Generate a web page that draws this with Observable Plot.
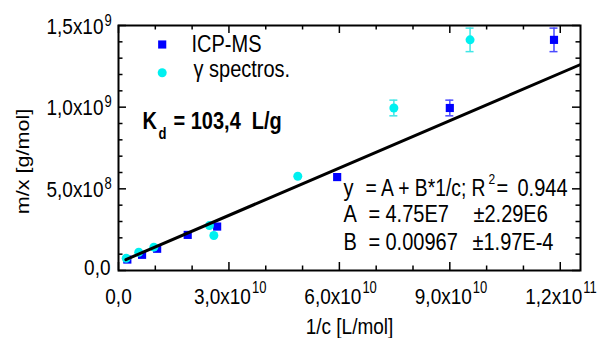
<!DOCTYPE html>
<html><head><meta charset="utf-8">
<script src="https://cdn.jsdelivr.net/npm/d3@7"></script>
<script src="https://cdn.jsdelivr.net/npm/@observablehq/plot@0.6"></script>
<style>
body{margin:0;background:#fff;}
#chart svg{font-family:"Liberation Sans",Arial,sans-serif;color:#000;background:#fff;}
</style>
</head><body><div id="chart"></div>
<script>
// ---- data ----
const icpX = [2.4e9, 6.4e9, 1.05e10, 1.88e10, 2.68e10, 5.94e10, 9.0e10, 1.183e11];
const icpY = [6.7e7, 9.6e7, 1.33e8, 2.18e8, 2.69e8, 5.72e8, 9.95e8, 1.412e9];
const icpErr = [0, 0, 0, 0, 0, 0, 4.8e7, 7.2e7];
const gamX = [2.1e9, 5.5e9, 9.6e9, 2.47e10, 2.59e10, 4.87e10, 7.48e10, 9.55e10];
const gamY = [7.5e7, 1.12e8, 1.43e8, 2.75e8, 2.14e8, 5.77e8, 9.95e8, 1.412e9];
const gamErr = [0, 0, 0, 0, 0, 0, 4.8e7, 7.2e7];
const fitA = 4.75e7, fitB = 0.00967;
const fitXRange = [2.0e9, 1.255e11];

const xMajor = [0, 3e10, 6e10, 9e10, 1.2e11];
const xMant = ["0,0", "3,0x10", "6,0x10", "9,0x10", "1,2x10"];
const xExp = ["", "10", "10", "10", "11"];
const xMinor = [1e10, 2e10, 4e10, 5e10, 7e10, 8e10, 1e11, 1.1e11];
const yMajor = [0, 5e8, 1e9, 1.5e9];
const yMant = ["0,0", "5,0x10", "1,0x10", "1,5x10"];
const yExp = ["", "8", "9", "9"];
const yMinor = [1e8, 2e8, 3e8, 4e8, 6e8, 7e8, 8e8, 9e8, 1.1e9, 1.2e9, 1.3e9, 1.4e9];

const xTitle = "1/c [L/mol]";
const yTitle = "m/x [g/mol]";
const legendNames = ["ICP-MS", "\u03b3 spectros."];
const kdText = ["K", "d", "= 103,4\u00a0\u00a0L/g"];
const fitRowLabels = ["y", "A", "B"];
const fitEq = "= A + B*1/c; R";
const r2Sup = "2";
const r2Val = "0.944";
const fitValues = ["4.75E7", "0.00967"];
const fitErrors = ["\u00b12.29E6", "\u00b11.97E-4"];

// ---- tables ----
const blueC = "#0000ff", cyanC = "#00f0f0";
const icp = icpX.map((x, i) => ({x, y: icpY[i], e: icpErr[i]}));
const gam = gamX.map((x, i) => ({x, y: gamY[i], e: gamErr[i]}));
const fitLine = fitXRange.map(x => ({x, y: fitA + fitB * x}));
const xT = xMajor.map((v, i) => ({v, m: xMant[i], e: xExp[i]}));
const yT = yMajor.map((v, i) => ({v, m: yMant[i], e: yExp[i]}));
const XMAX = 1.255e11, YMAX = 1.5e9;

function errMarks(data, color) {
  const d = data.filter(r => r.e > 0);
  const o = {stroke: color, strokeWidth: 1.5};
  return [
    Plot.ruleX(d, {x: "x", y1: r => r.y - r.e, y2: r => r.y + r.e, ...o}),
    Plot.ruleY(d, {y: r => r.y - r.e, x1: "x", x2: "x", insetLeft: -4, insetRight: -4, ...o}),
    Plot.ruleY(d, {y: r => r.y + r.e, x1: "x", x2: "x", insetLeft: -4, insetRight: -4, ...o})
  ];
}
function lab(t, dx, dy, o = {}) {
  return Plot.text([t], {text: d => d, frameAnchor: "top-left", dx, dy, textAnchor: "start", lineAnchor: "bottom", fontSize: 20, fill: "black", ...o});
}
const tk = {stroke: "black", strokeWidth: 1.5};

const chart = Plot.plot({
  width: 597, height: 338,
  marginLeft: 118, marginRight: 17, marginTop: 25, marginBottom: 68,
  x: {domain: [0, XMAX], axis: null},
  y: {domain: [0, YMAX], axis: null},
  marks: [
    // ticks (inward)
    Plot.ruleX(xMajor, {x: d => d, y1: 0, y2: 0, insetTop: -8, ...tk}),
    Plot.ruleX(xMinor, {x: d => d, y1: 0, y2: 0, insetTop: -4.5, ...tk}),
    Plot.ruleX(xMajor, {x: d => d, y1: YMAX, y2: YMAX, insetBottom: -8, ...tk}),
    Plot.ruleX(xMinor, {x: d => d, y1: YMAX, y2: YMAX, insetBottom: -4.5, ...tk}),
    Plot.ruleY(yMajor, {y: d => d, x1: 0, x2: 0, insetRight: -8, ...tk}),
    Plot.ruleY(yMinor, {y: d => d, x1: 0, x2: 0, insetRight: -4.5, ...tk}),
    Plot.ruleY(yMajor, {y: d => d, x1: XMAX, x2: XMAX, insetLeft: -8, ...tk}),
    Plot.ruleY(yMinor, {y: d => d, x1: XMAX, x2: XMAX, insetLeft: -4.5, ...tk}),
    // tick labels
    Plot.text(xT.filter(d => d.e === ""), {x: "v", text: "m", frameAnchor: "bottom", dy: 33, lineAnchor: "bottom", textAnchor: "middle", fontSize: 19}),
    Plot.text(xT.filter(d => d.e !== ""), {x: "v", text: "m", frameAnchor: "bottom", dy: 33, dx: 22, lineAnchor: "bottom", textAnchor: "end", fontSize: 19}),
    Plot.text(xT.filter(d => d.e !== ""), {x: "v", text: "e", frameAnchor: "bottom", dy: 22, dx: 23, lineAnchor: "bottom", textAnchor: "start", fontSize: 13}),
    Plot.text(yT.filter(d => d.e === ""), {y: "v", text: "m", frameAnchor: "left", dx: -8, dy: -2.5, lineAnchor: "middle", textAnchor: "end", fontSize: 19}),
    Plot.text(yT.filter(d => d.e !== ""), {y: "v", text: "m", frameAnchor: "left", dx: -15, dy: 1, lineAnchor: "middle", textAnchor: "end", fontSize: 19}),
    Plot.text(yT.filter(d => d.e !== ""), {y: "v", text: "e", frameAnchor: "left", dx: -14, dy: 0, lineAnchor: "bottom", textAnchor: "start", fontSize: 13}),
    // axis titles
    Plot.text([xTitle], {text: d => d, frameAnchor: "bottom", dy: 63, lineAnchor: "bottom", textAnchor: "middle", fontSize: 19}),
    Plot.text([yTitle], {text: d => d, frameAnchor: "left", dx: -90, dy: 13.5, rotate: -90, lineAnchor: "bottom", textAnchor: "middle", fontSize: 18}),
    // error bars and data
    ...errMarks(icp, "#4a4aff"),
    ...errMarks(gam, "#40e6e6"),
    Plot.dot(icp, {x: "x", y: "y", symbol: "square", r: 4.6, fill: blueC}),
    Plot.dot(gam, {x: "x", y: "y", symbol: "circle", r: 4.5, fill: cyanC}),
    // fit line
    Plot.line(fitLine, {x: "x", y: "y", stroke: "black", strokeWidth: 3, clip: true}),
    // legend
    Plot.dot([legendNames[0]], {frameAnchor: "top-left", dx: 43.7, dy: 19, symbol: "square", r: 4.6, fill: blueC}),
    Plot.dot([legendNames[1]], {frameAnchor: "top-left", dx: 43.7, dy: 47.3, symbol: "circle", r: 4.5, fill: cyanC}),
    lab(legendNames[0], 73, 26.7, {fontSize: 20}),
    lab(legendNames[1], 75, 51.7, {fontSize: 20}),
    // Kd annotation
    lab(kdText[0], 24, 103, {fontWeight: "bold", fontSize: 20}),
    lab(kdText[1], 40, 113, {fontWeight: "bold", fontSize: 13}),
    lab(kdText[2], 55, 103, {fontWeight: "bold", fontSize: 20}),
    // fit annotation
    lab(fitRowLabels[0], 225, 170),
    lab(fitEq, 247, 170, {fontSize: 19.3}),
    lab(r2Sup, 370, 158, {fontSize: 12}),
    lab("=", 378, 170),
    lab(r2Val, 399, 170),
    lab(fitRowLabels[1], 225, 196.7),
    lab("=", 250, 196.7),
    lab(fitValues[0], 267, 196.7),
    lab(fitErrors[0], 355, 196.7),
    lab(fitRowLabels[2], 225, 224),
    lab("=", 250, 224),
    lab(fitValues[1], 267, 224),
    lab(fitErrors[1], 354, 224),
    Plot.frame({stroke: "black", strokeWidth: 2})
  ]
});
// vertical stretch of the lettering as in the reference rendering
chart.querySelectorAll("text").forEach(t => {
  const tr = t.getAttribute("transform");
  if (!tr || !tr.includes("translate")) return;
  t.setAttribute("transform", tr + (tr.includes("rotate") ? " scale(1.2,1)" : " scale(1,1.2)"));
});
document.getElementById("chart").appendChild(chart);
</script>
</body></html>
